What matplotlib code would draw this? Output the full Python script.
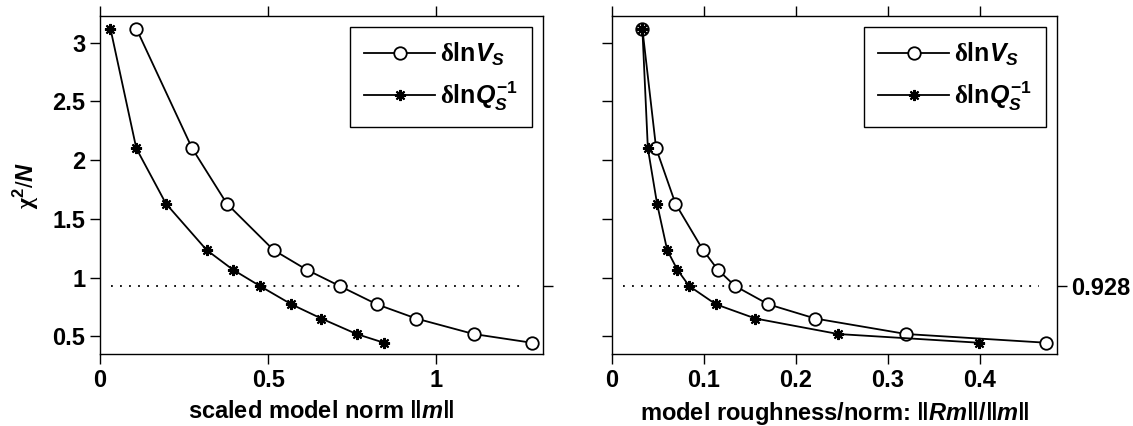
import matplotlib
matplotlib.use("Agg")
import matplotlib.pyplot as plt

plt.rcParams['font.family'] = ['Liberation Sans', 'DejaVu Sans']
plt.rcParams['font.weight'] = 'bold'
plt.rcParams['mathtext.fontset'] = 'custom'
plt.rcParams['mathtext.rm'] = 'Liberation Sans:bold'
plt.rcParams['mathtext.bf'] = 'Liberation Sans:bold'
plt.rcParams['mathtext.it'] = 'Liberation Sans:italic:bold'
plt.rcParams['mathtext.sf'] = 'Liberation Serif'

# chi^2/N for each damping step (same for both parameter sets)
chi2 = [3.12, 2.10, 1.63, 1.235, 1.068, 0.928, 0.773, 0.652, 0.52, 0.446]

# scaled model norm ||m||
norm_vs = [0.108, 0.274, 0.377, 0.516, 0.614, 0.713, 0.823, 0.940, 1.111, 1.283]
norm_q = [0.031, 0.108, 0.196, 0.317, 0.395, 0.476, 0.569, 0.658, 0.763, 0.844]

# roughness / norm ||Rm||/||m||
rough_vs = [0.033, 0.048, 0.069, 0.099, 0.115, 0.134, 0.170, 0.221, 0.320, 0.472]
rough_q = [0.033, 0.039, 0.049, 0.060, 0.071, 0.084, 0.113, 0.156, 0.246, 0.399]

chi_target = 0.928

lbl_vs = r'$\mathsf{\delta}\mathrm{ln}V_S$'
lbl_q = r'$\mathsf{\delta}\mathrm{ln}Q_S^{-1}$'

star = (8, 2, 0)
fs = 17

fig = plt.figure(figsize=(11.33, 4.26), dpi=100)
ax1 = fig.add_axes([100 / 1133, 1 - 354 / 426, 443 / 1133, 338 / 426])
ax2 = fig.add_axes([612 / 1133, 1 - 354 / 426, 445 / 1133, 338 / 426])

panels = [
    (ax1, norm_vs, norm_q, (0, 1.317), [0, 0.5, 1], ['0', '0.5', '1'],
     r'scaled model norm $\Vert\mathit{m}\Vert$'),
    (ax2, rough_vs, rough_q, (0, 0.484), [0, 0.1, 0.2, 0.3, 0.4],
     ['0', '0.1', '0.2', '0.3', '0.4'],
     r'model roughness/norm: $\Vert\mathit{Rm}\Vert/\Vert\mathit{m}\Vert$'),
]

for ax, xv, xq, xlim, xt, xtl, xlab in panels:
    ax.plot(xv, chi2, '-o', color='black', lw=1.3, ms=9,
            mfc='white', mec='black', mew=1.3, label=lbl_vs, zorder=3)
    ax.plot(xq, chi2, '-', marker=star, color='black', lw=1.3, ms=8,
            mew=1.5, label=lbl_q, zorder=3)
    ax.axhline(chi_target, xmin=0.024, xmax=0.96, color='black',
               ls=(0, (1, 4)), lw=1.3)
    ax.set_xlim(*xlim)
    ax.set_ylim(0.35, 3.227)
    ax.set_xticks(xt)
    ax.set_xticklabels(xtl)
    ax.set_yticks([0.5, 1, 1.5, 2, 2.5, 3])
    ax.tick_params(direction='out', length=7, width=1, labelsize=fs,
                   top=True, labeltop=False)
    ax.set_xlabel(xlab, fontsize=fs, fontweight='bold', labelpad=6)
    for s in ax.spines.values():
        s.set_linewidth(1)

    # single tick on the right side at the target misfit
    sec = ax.secondary_yaxis('right')
    sec.set_yticks([chi_target])
    sec.tick_params(direction='out', length=7, width=1, labelsize=fs)
    sec.spines['right'].set_visible(False)

    leg = ax.legend(loc='upper right', fontsize=18, handlelength=2.85,
                    numpoints=1, fancybox=False, edgecolor='black',
                    framealpha=1, borderpad=0.55, labelspacing=0.45,
                    handletextpad=0.2, borderaxespad=0,
                    bbox_to_anchor=(0.975, 0.967))
    leg.get_frame().set_linewidth(1)

ax1.set_yticklabels(['0.5', '1', '1.5', '2', '2.5', '3'])
ax1.set_ylabel(r'$\mathsf{\chi}^2$/$\mathit{N}$', fontsize=fs, labelpad=8)
ax2.set_yticklabels([])

# label for the target line only on the right panel
for sa in ax1.child_axes:
    sa.set_yticklabels([''])
for sa in ax2.child_axes:
    sa.set_yticklabels(['0.928'])

fig.savefig('out.png', dpi=100)
